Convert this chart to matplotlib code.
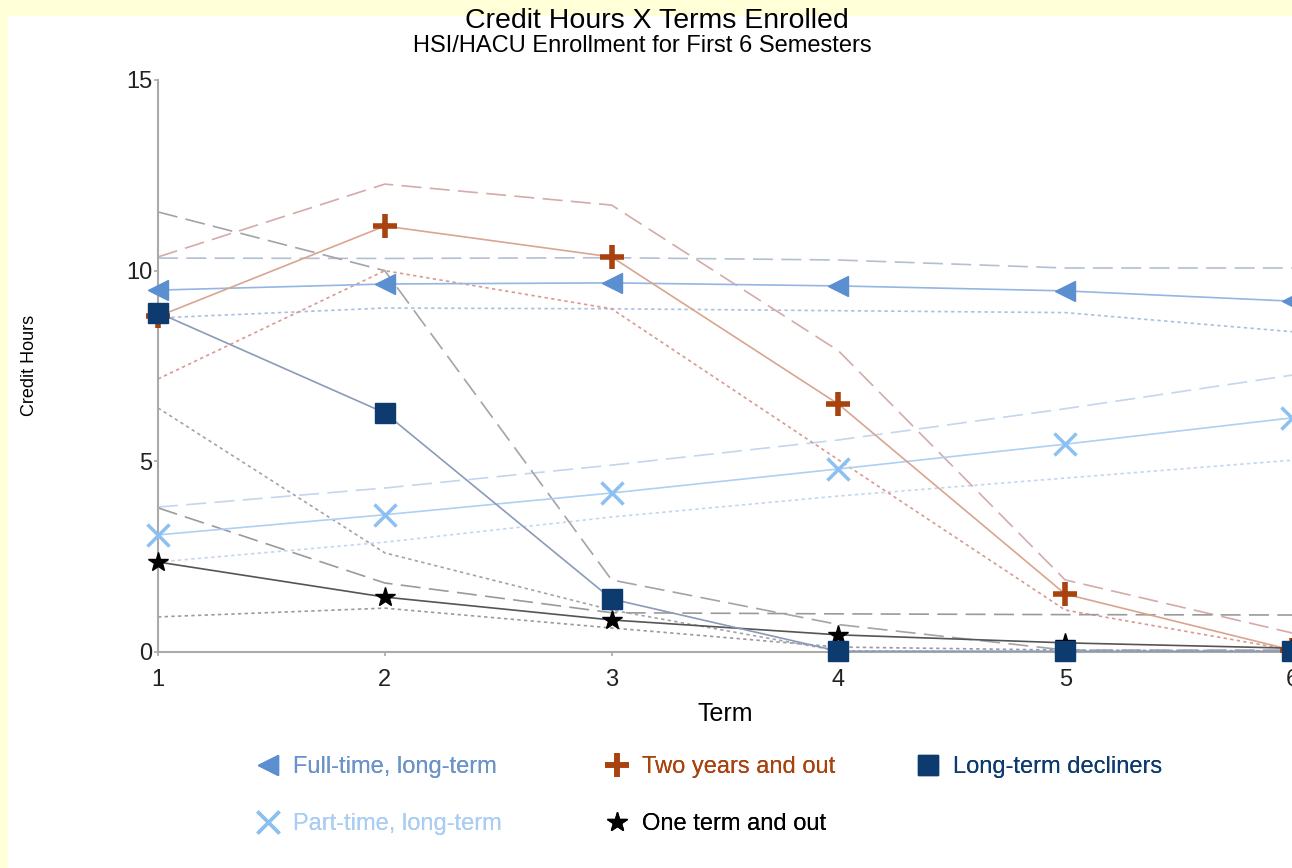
import matplotlib
matplotlib.use("Agg")
import matplotlib.pyplot as plt

plt.rcParams['font.family'] = ['Liberation Sans', 'DejaVu Sans']

terms = [1, 2, 3, 4, 5, 6]

# group means with upper / lower bands
full_mean = [9.49, 9.65, 9.68, 9.60, 9.47, 9.20]
full_hi = [10.33, 10.32, 10.34, 10.28, 10.07, 10.07]
full_lo = [8.76, 9.02, 9.00, 8.95, 8.90, 8.40]

two_mean = [8.80, 11.17, 10.36, 6.50, 1.52, 0.05]
two_hi = [10.36, 12.27, 11.72, 7.90, 1.89, 0.50]
two_lo = [7.16, 10.00, 9.00, 5.04, 1.10, 0.05]

decl_mean = [8.90, 6.27, 1.39, 0.02, 0.02, 0.02]
decl_hi = [11.54, 10.00, 1.89, 0.72, 0.05, 0.05]
decl_lo = [6.40, 2.60, 1.10, 0.03, 0.00, 0.00]

part_mean = [3.07, 3.60, 4.17, 4.80, 5.45, 6.14]
part_hi = [3.80, 4.30, 4.90, 5.56, 6.38, 7.26]
part_lo = [2.36, 2.88, 3.54, 4.09, 4.56, 5.03]

one_mean = [2.36, 1.44, 0.84, 0.45, 0.24, 0.10]
one_hi = [3.78, 1.81, 1.03, 1.00, 0.98, 0.97]
one_lo = [0.92, 1.15, 0.63, 0.13, 0.05, 0.03]

labels = ["Full-time, long-term", "Part-time, long-term", "Two years and out",
          "One term and out", "Long-term decliners"]

fig = plt.figure(figsize=(12.92, 8.68), dpi=100)
fig.patch.set_facecolor('#ffffd8')
# white slide area
fig.add_artist(plt.Rectangle((8 / 1292, 0), 1, (868 - 16) / 868,
                             transform=fig.transFigure, color='white', zorder=0))

ax = fig.add_axes([158 / 1292, 1 - 652 / 868, 1 - 158 / 1292, (652 - 80) / 868])
ax.set_facecolor('none')

dash_hi = (0, (12, 5))
dot_lo = (0, (2, 2))

groups = [
    # mean, hi, lo, marker, msize, mcolor, line color, band hi color, band lo color, text color
    (full_mean, full_hi, full_lo, '<', 15, '#5b8fcf', '#93b6e2', '#b4bfd2', '#a9bfdf', '#6a93c8'),
    (part_mean, part_hi, part_lo, 'x', 16, '#8cc0f0', '#aed0f2', '#c3d6ee', '#c3d6ee', '#a9cdf3'),
    (two_mean, two_hi, two_lo, '+', 17, '#a8420f', '#d9a58e', '#d5aaa8', '#d89a90', '#a8420f'),
    (one_mean, one_hi, one_lo, '*', 15, '#000000', '#555555', '#9a9a9a', '#9a9a9a', '#000000'),
    (decl_mean, decl_hi, decl_lo, 's', 15, '#0d3b6f', '#8a9bb8', '#a3a3aa', '#a3a3aa', '#0d3b6f'),
]

handles = []
for mean, hi, lo, mk, ms, mc, lc, hc, loc_, tc in groups:
    ax.plot(terms, hi, color=hc, lw=1.2, ls=dash_hi, zorder=2)
    ax.plot(terms, lo, color=loc_, lw=1.2, ls=dot_lo, zorder=2)
    ax.plot(terms, mean, color=lc, lw=1.2, zorder=3)
    mew = 4 if mk == '+' else (2.5 if mk == 'x' else 1)
    h, = ax.plot(terms, mean, ls='none', marker=mk, ms=ms, color=mc,
                 mec=mc, mew=mew, zorder=4, clip_on=False)
    handles.append(h)

ax.set_xlim(1, 6)
ax.set_ylim(0, 15)
ax.set_xticks(terms)
ax.set_yticks([0, 5, 10, 15])
ax.tick_params(labelsize=17, colors='#aaaaaa', labelcolor='#222222', length=3, width=1.2)
ax.tick_params(axis='y', pad=1)
ax.tick_params(axis='x', pad=9)
for s in ['top', 'right']:
    ax.spines[s].set_visible(False)
for s in ['left', 'bottom']:
    ax.spines[s].set_color('#aaaaaa')
    ax.spines[s].set_linewidth(1.5)

ax.set_xlabel("Term", fontsize=18, labelpad=8)
fig.text(30 / 1292, 1 - 365 / 868, "Credit Hours", rotation=90, fontsize=13,
         ha='center', va='center')

fig.text(657 / 1292, 1 - 21 / 868, "Credit Hours X Terms Enrolled", fontsize=20.5,
         ha='center', va='center')
fig.text(642 / 1292, 1 - 46 / 868, "HSI/HACU Enrollment for First 6 Semesters",
         fontsize=17, ha='center', va='center')

# legend laid out in three fixed columns
columns = [([0, 1], 233), ([2, 3], 582), ([4], 893)]
for idx, x0 in columns:
    lg = fig.legend([handles[i] for i in idx], [labels[i] for i in idx],
                    loc='upper left', bbox_to_anchor=(x0 / 1292, 1 - 735 / 868),
                    frameon=False, fontsize=17, labelspacing=1.48,
                    handletextpad=0.45, handlelength=1.2,
                    labelcolor=[groups[i][9] for i in idx])
    fig.add_artist(lg)

fig.savefig("out.png", dpi=100, facecolor=fig.get_facecolor())
